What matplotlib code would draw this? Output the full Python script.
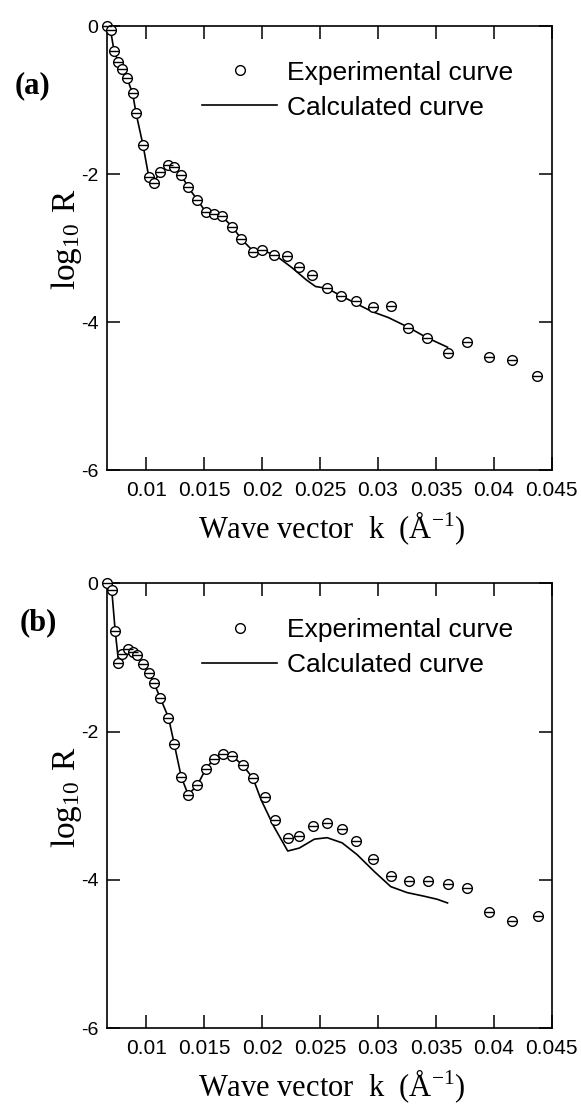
import matplotlib
matplotlib.use("Agg")
import matplotlib.pyplot as plt
from matplotlib.lines import Line2D

# ---------------- data ----------------
# Panel (a)
k_exp_a = [0.0066, 0.0069, 0.0072, 0.00756, 0.0079, 0.0083, 0.0088, 0.0091, 0.0097,
           0.0102, 0.01066, 0.0112, 0.0119, 0.0124, 0.0130, 0.0136, 0.0144, 0.0151,
           0.0158, 0.0165, 0.0174, 0.0182, 0.0192, 0.0200, 0.0210, 0.0221, 0.0232,
           0.0243, 0.0256, 0.0268, 0.0281, 0.0296, 0.0311, 0.0326, 0.0342, 0.0360,
           0.0377, 0.0396, 0.0416, 0.0437]
logR_exp_a = [0.0, -0.06, -0.34, -0.48, -0.585, -0.70, -0.91, -1.18, -1.61,
              -2.04, -2.12, -1.97, -1.88, -1.91, -2.01, -2.18, -2.35, -2.51,
              -2.545, -2.57, -2.71, -2.88, -3.06, -3.02, -3.09, -3.11, -3.25,
              -3.36, -3.54, -3.645, -3.71, -3.80, -3.79, -4.08, -4.21, -4.415,
              -4.27, -4.47, -4.51, -4.73]
k_calc_a = [0.0066, 0.0069, 0.0072, 0.00756, 0.0079, 0.0083, 0.0088, 0.0091, 0.0097,
            0.0102, 0.01066, 0.0112, 0.0119, 0.0124, 0.0130, 0.0136, 0.0144, 0.0151,
            0.0158, 0.0165, 0.0174, 0.0182, 0.0192, 0.0200, 0.0210, 0.0215, 0.0226,
            0.0238, 0.0246, 0.0256, 0.0268, 0.0281, 0.0295, 0.0309, 0.0326, 0.0342,
            0.0360]
logR_calc_a = [0.0, -0.06, -0.34, -0.48, -0.585, -0.70, -0.91, -1.18, -1.61,
               -2.04, -2.10, -1.97, -1.88, -1.91, -2.01, -2.18, -2.35, -2.51,
               -2.545, -2.57, -2.71, -2.88, -3.04, -3.03, -3.09, -3.14, -3.27,
               -3.43, -3.52, -3.545, -3.645, -3.75, -3.86, -3.94, -4.07, -4.21,
               -4.34]

# Panel (b)
k_exp_b = [0.0066, 0.0070, 0.0073, 0.00756, 0.0079, 0.0084, 0.0088, 0.0092, 0.0097,
           0.0102, 0.01066, 0.0112, 0.0119, 0.0124, 0.0130, 0.0136, 0.0144, 0.0151,
           0.0158, 0.0166, 0.0174, 0.0183, 0.0192, 0.0202, 0.0211, 0.0222, 0.0232,
           0.0244, 0.0256, 0.0269, 0.0281, 0.0296, 0.0311, 0.0327, 0.0343, 0.0360,
           0.0377, 0.0396, 0.0416, 0.0438]
logR_exp_b = [0.0, -0.09, -0.65, -1.07, -0.95, -0.88, -0.92, -0.97, -1.09,
              -1.21, -1.35, -1.55, -1.81, -2.17, -2.61, -2.85, -2.72, -2.51,
              -2.37, -2.30, -2.33, -2.45, -2.63, -2.88, -3.19, -3.44, -3.41,
              -3.27, -3.23, -3.31, -3.47, -3.72, -3.945, -4.02, -4.01, -4.05,
              -4.11, -4.43, -4.55, -4.48]
k_calc_b = [0.0066, 0.0070, 0.0073, 0.00756, 0.0079, 0.0084, 0.0088, 0.0092, 0.0097,
            0.0102, 0.01066, 0.0112, 0.0119, 0.0124, 0.0130, 0.0136, 0.0144, 0.0151,
            0.0158, 0.0166, 0.0174, 0.0183, 0.0192, 0.0199, 0.0210, 0.0222, 0.0232,
            0.0245, 0.0256, 0.0269, 0.0282, 0.0297, 0.0311, 0.0325, 0.0340, 0.0351,
            0.0360]
logR_calc_b = [0.0, -0.09, -0.65, -1.02, -0.95, -0.88, -0.92, -0.97, -1.09,
               -1.21, -1.35, -1.55, -1.81, -2.17, -2.61, -2.85, -2.72, -2.51,
               -2.37, -2.30, -2.33, -2.45, -2.63, -2.92, -3.28, -3.61, -3.57,
               -3.45, -3.43, -3.50, -3.66, -3.89, -4.09, -4.17, -4.22, -4.26,
               -4.31]

x_ticks = [0.01, 0.015, 0.02, 0.025, 0.03, 0.035, 0.04, 0.045]
x_tick_labels = ["0.01", "0.015", "0.02", "0.025", "0.03", "0.035", "0.04", "0.045"]
y_ticks = [0, -2, -4, -6]
y_tick_labels = ["0", "-2", "-4", "-6"]
panel_labels = ["(a)", "(b)"]
legend_labels = ["Experimental curve", "Calculated curve"]

# ---------------- figure ----------------
SANS = "Liberation Sans"
SERIF = "Liberation Serif"
MS = 7.0

fig = plt.figure(figsize=(5.81, 11.07), dpi=100)
ax_a = fig.add_axes([0.1836, 0.5754, 0.7660, 0.4011])
ax_b = fig.add_axes([0.1836, 0.0711, 0.7660, 0.4020])

panels = [
    (ax_a, k_exp_a, logR_exp_a, k_calc_a, logR_calc_a, (-0.166, 0.865)),
    (ax_b, k_exp_b, logR_exp_b, k_calc_b, logR_calc_b, (-0.154, 0.911)),
]

for i, (ax, kx, ye, kc, yc, lab_pos) in enumerate(panels):
    ax.plot(kc, yc, color="black", lw=1.2, zorder=2)
    ax.plot(kx, ye, linestyle="none", marker="o", ms=MS, mfc="white",
            mec="black", mew=1.0, clip_on=False, zorder=3)
    ax.plot(kx, ye, linestyle="none", marker="_", ms=MS, mec="black",
            mew=1.0, clip_on=False, zorder=4)

    ax.set_xlim(0.00656, 0.045)
    ax.set_ylim(-6, 0)
    ax.set_xticks(x_ticks)
    ax.set_xticklabels(x_tick_labels, fontsize=15, family=SANS)
    ax.set_yticks(y_ticks)
    ax.set_yticklabels(y_tick_labels, fontsize=14, family=SANS)
    ax.tick_params(axis="both", direction="in", length=9.4, width=1.1,
                   top=True, right=True)
    ax.tick_params(axis="x", pad=8)
    ax.tick_params(axis="y", pad=6)
    for sp in ax.spines.values():
        sp.set_linewidth(1.2)

    ax.set_xlabel("Wave vector  k  (Å$^{\\mathregular{-1}}$)", fontsize=22,
                  family=SERIF)
    ax.xaxis.set_label_coords(0.506, -0.088)
    ax.set_ylabel("$\\mathregular{log_{10}\\ R}$", fontsize=24, family=SERIF)
    ax.yaxis.set_label_coords(-0.05, 0.52)

    ax.text(lab_pos[0], lab_pos[1], panel_labels[i], transform=ax.transAxes,
            fontsize=22, fontweight="bold", family=SERIF, ha="center",
            va="center")

    handles = [
        Line2D([], [], linestyle="none", marker="o", ms=MS, mfc="white",
               mec="black", mew=1.0),
        Line2D([], [], color="black", lw=1.2),
    ]
    ax.legend(handles, legend_labels, loc="upper left",
              bbox_to_anchor=(0.214, 0.922), frameon=False, borderpad=0,
              borderaxespad=0, handlelength=2.85, handletextpad=0.38,
              labelspacing=0.42, numpoints=1,
              prop={"family": SANS, "size": 19})

fig.savefig("out.png", dpi=100)
